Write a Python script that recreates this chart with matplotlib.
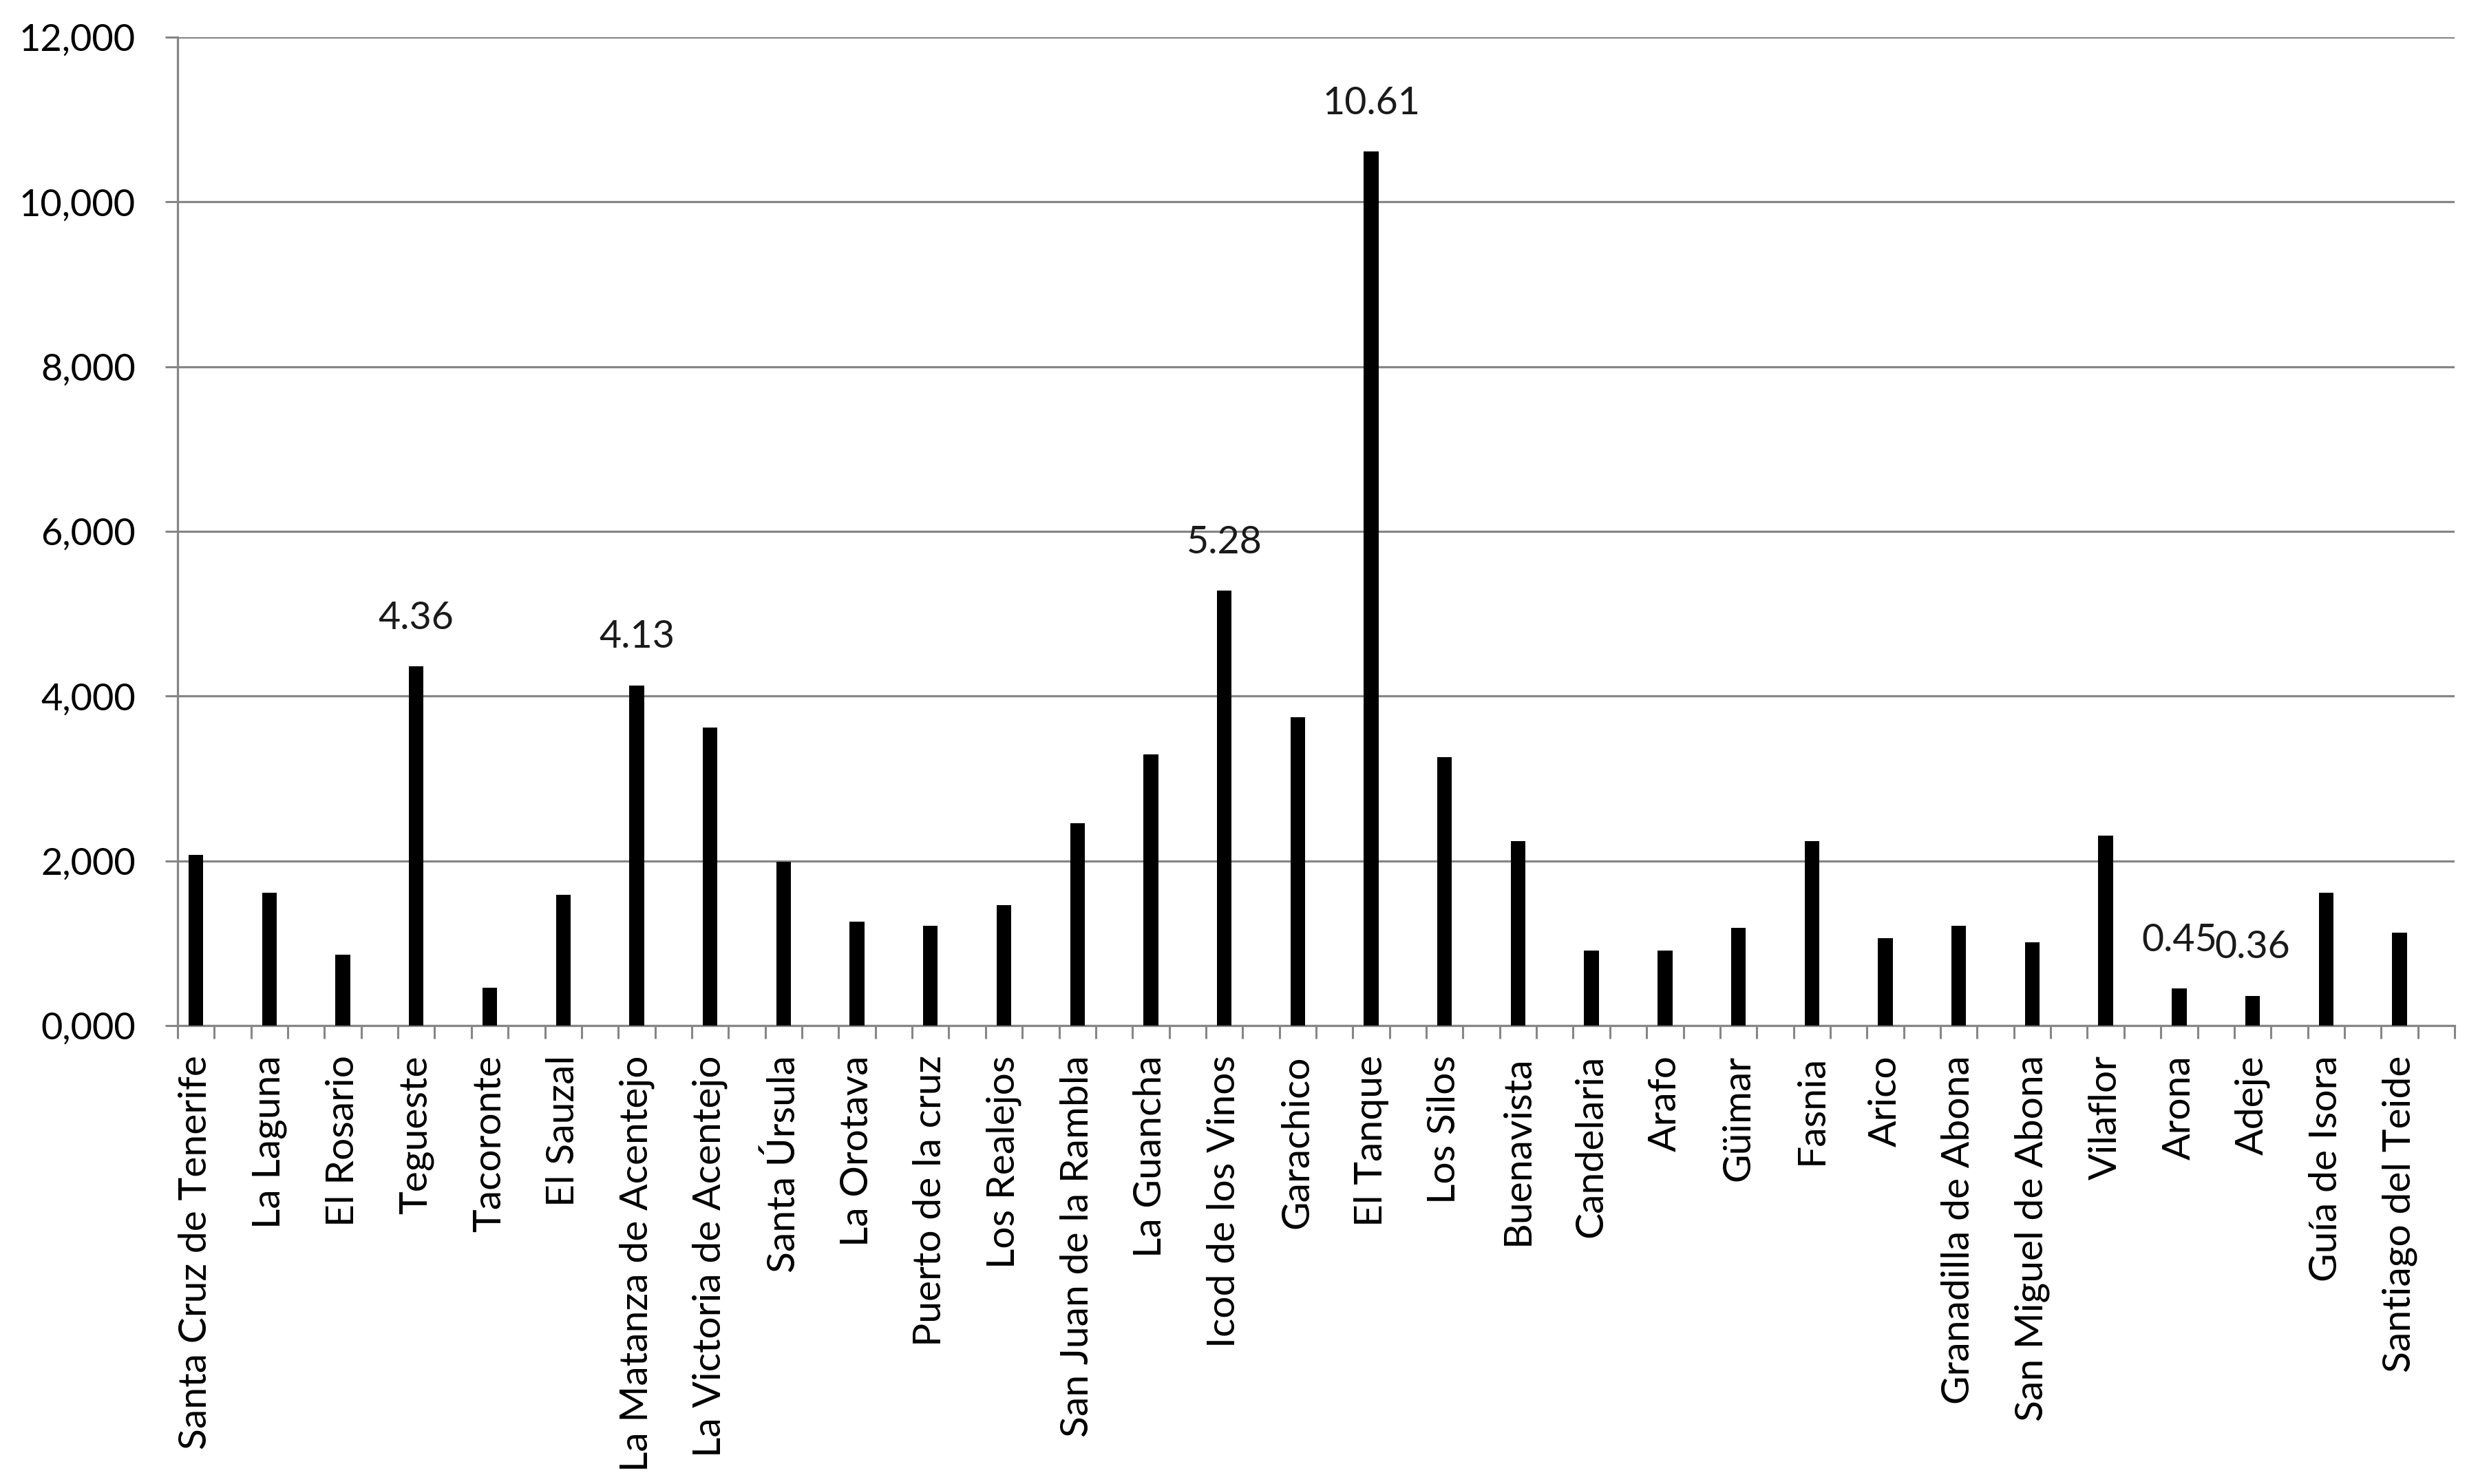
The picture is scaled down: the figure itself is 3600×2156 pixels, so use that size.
import matplotlib
matplotlib.use("Agg")
import matplotlib.pyplot as plt
from matplotlib.ticker import FuncFormatter, FixedLocator

categories = ["Santa Cruz de Tenerife", "La Laguna", "El Rosario", "Tegueste", "Tacoronte",
              "El Sauzal", "La Matanza de Acentejo", "La Victoria de Acentejo", "Santa Úrsula",
              "La Orotava", "Puerto de la cruz", "Los Realejos", "San Juan de la Rambla",
              "La Guancha", "Icod de los Vinos", "Garachico", "El Tanque", "Los Silos",
              "Buenavista", "Candelaria", "Arafo", "Güimar", "Fasnia", "Arico",
              "Granadilla de Abona", "San Miguel de Abona", "Vilaflor", "Arona", "Adeje",
              "Guía de Isora", "Santiago del Teide"]
values = [2.07, 1.61, 0.86, 4.36, 0.46, 1.59, 4.13, 3.62, 1.99,
          1.26, 1.21, 1.46, 2.46, 3.29, 5.28, 3.74, 10.61, 3.26,
          2.24, 0.91, 0.91, 1.19, 2.24, 1.06, 1.21, 1.01, 2.31, 0.45, 0.36,
          1.61, 1.13]
labelled = {"Tegueste": "4.36", "La Matanza de Acentejo": "4.13", "Icod de los Vinos": "5.28",
            "El Tanque": "10.61", "Arona": "0.45", "Adeje": "0.36"}
yticks = [0, 2, 4, 6, 8, 10, 12]

plt.rcParams['font.family'] = ['Lato', 'DejaVu Sans']
fig = plt.figure(figsize=(36, 21.56), dpi=100)
ax = fig.add_axes([258/3600, 1 - 1490/2156, (3566-258)/3600, (1490-54)/2156])

gray = "#868686"
n = len(categories)
pos = [2*i + 0.5 for i in range(n)]
ax.bar(pos, values, width=0.4, color="black", zorder=3)
ax.set_xlim(0, 2*n)
ax.set_ylim(0, 12)
ax.set_yticks(yticks)
ax.yaxis.set_major_formatter(FuncFormatter(lambda v, p: f"{int(v)},000"))
ax.grid(axis="y", color=gray, linewidth=2.3, zorder=0)
ax.set_axisbelow(True)

ax.xaxis.set_major_locator(FixedLocator(list(range(0, 2*n + 1))))
ax.xaxis.set_major_formatter(FuncFormatter(lambda v, p: ""))
ax.xaxis.set_minor_locator(FixedLocator(pos))
ax.set_xticklabels(categories, minor=True, rotation=90)
ax.tick_params(axis="x", which="major", length=14, width=2.2, color=gray, direction="out")
ax.tick_params(axis="x", which="minor", length=0, pad=31, labelsize=41)
ax.tick_params(axis="y", length=13, width=2.2, color=gray, pad=31, labelsize=39)

for s in ["top", "right"]:
    ax.spines[s].set_visible(False)
for s in ["left", "bottom"]:
    ax.spines[s].set_color(gray)
    ax.spines[s].set_linewidth(2.3)

for p, c, v in zip(pos, categories, values):
    if c in labelled:
        ax.annotate(labelled[c], (p, v), xytext=(0, 32), textcoords="offset points",
                    ha="center", va="bottom", fontsize=40, color="#1a1a1a")

fig.savefig("out.png", dpi=100, facecolor="white")
